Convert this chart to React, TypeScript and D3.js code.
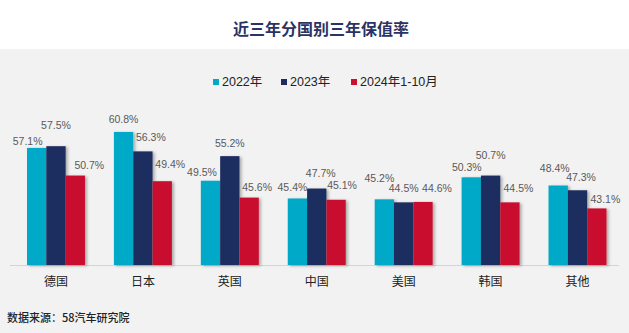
import React from "react";
import * as d3 from "d3";

const categories = ["德国", "日本", "英国", "中国", "美国", "韩国", "其他"];
const seriesNames = ["2022年", "2023年", "2024年1-10月"];
const values2022 = [57.1, 60.8, 49.5, 45.4, 45.2, 50.3, 48.4];
const values2023 = [57.5, 56.3, 55.2, 47.7, 44.5, 50.7, 47.3];
const values2024 = [50.7, 49.4, 45.6, 45.1, 44.6, 44.5, 43.1];

const title = "近三年分国别三年保值率";
const source = "数据来源：58汽车研究院";

// layout: label offsets [dx, dy] from bar top-centre (per series, per category)
const LABEL_OFFSETS: [number, number][][] = [
  [[-9, -7], [0, -13], [-8.5, -8.5], [-5, -11.5], [-5, -21], [-4.5, -10], [-3.5, -18]],
  [[0, -21], [8, -14], [0, -13.5], [4, -15.5], [0, -14], [0, -21], [3.5, -13]],
  [[14, -11], [8, -17.5], [8, -11], [6, -14.5], [14, -13.5], [8.5, -14], [8.5, -9]],
];

const W = 629;
const H = 333;
const COLORS = ["#00a9c7", "#1f2d5e", "#c9102f"];
const FONT = "'Liberation Sans', Arial, 'Noto Sans CJK SC', sans-serif";

export default function App() {
  const series = [values2022, values2023, values2024];
  const x0 = d3
    .scaleBand<string>()
    .domain(categories)
    .range([12.5, 621])
    .paddingInner(0.333)
    .paddingOuter(0.1667);
  const x1 = d3
    .scaleBand<number>()
    .domain([0, 1, 2])
    .range([0, x0.bandwidth()]);
  const y = d3.scaleLinear().domain([30, 65]).range([265, 265 - 35 * 4.32]);

  const legendX = [213, 281, 351];

  return (
    <svg
      width={W}
      height={H}
      style={{ position: "absolute", left: 0, top: 0, fontFamily: FONT }}
    >
      <defs>
        <filter id="shadow" x="-20%" y="-10%" width="150%" height="130%">
          <feDropShadow dx="2" dy="1" stdDeviation="1.4" floodColor="#000" floodOpacity="0.3" />
        </filter>
      </defs>
      <rect x={0} y={0} width={W} height={H} fill="#ffffff" />
      <rect x={0} y={49} width={W} height={H - 49} fill="#f2f2f2" />
      <text
        x={321}
        y={28}
        textAnchor="middle"
        dominantBaseline="central"
        fontSize={16}
        fontWeight="bold"
        fill="#2a3363"
        fontFamily="'Noto Sans CJK SC', sans-serif"
      >
        {title}
      </text>

      {seriesNames.map((name, i) => (
        <g key={name}>
          <rect x={legendX[i]} y={79} width={6} height={6} fill={COLORS[i]} />
          <text
            x={legendX[i] + 9}
            y={82}
            dominantBaseline="central"
            fontSize={12.5}
            fill="#222"
          >
            {name}
          </text>
        </g>
      ))}

      <line x1={10} x2={619} y1={265.5} y2={265.5} stroke="#d4d4d4" strokeWidth={1} />

      {categories.map((c, ci) => (
        <g key={c}>
          {series.map((vals, si) => {
            const bx = (x0(c) as number) + (x1(si) as number);
            const bw = x1.bandwidth();
            const top = y(vals[ci]);
            return (
              <rect
                key={si}
                x={bx}
                y={top}
                width={bw}
                height={y(30) - top}
                fill={COLORS[si]}
                filter="url(#shadow)"
              />
            );
          })}
          {series.map((vals, si) => {
            const bx = (x0(c) as number) + (x1(si) as number) + x1.bandwidth() / 2;
            const top = y(vals[ci]);
            const [dx, dy] = LABEL_OFFSETS[si][ci];
            return (
              <text
                key={"l" + si}
                x={bx + dx}
                y={top + dy}
                textAnchor="middle"
                dominantBaseline="central"
                fontSize={10.5}
                fill="#595959"
              >
                {vals[ci].toFixed(1) + "%"}
              </text>
            );
          })}
          <text
            x={(x0(c) as number) + x0.bandwidth() / 2}
            y={282}
            textAnchor="middle"
            dominantBaseline="central"
            fontSize={12}
            fill="#222"
          >
            {c}
          </text>
        </g>
      ))}

      <text
        x={7}
        y={317}
        dominantBaseline="central"
        fontSize={11}
        fill="#222"
        fontWeight={500}
        fontFamily="'Noto Sans CJK SC', sans-serif"
      >
        {source}
      </text>
    </svg>
  );
}
